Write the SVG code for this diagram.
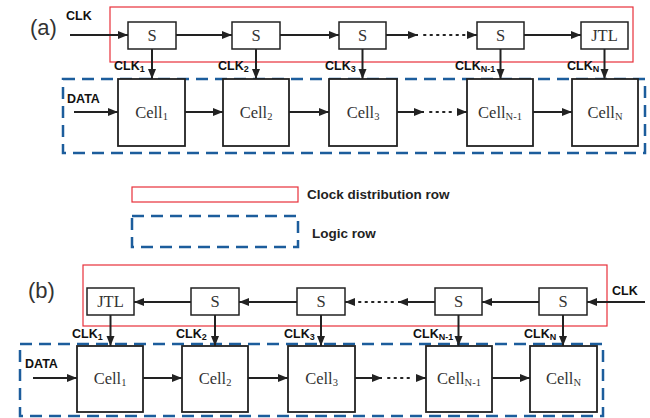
<svg xmlns="http://www.w3.org/2000/svg" width="650" height="418" viewBox="0 0 650 418">
<style>
.box{fill:#fff;stroke:#222;stroke-width:1.5}
.cell{fill:#fff;stroke:#222;stroke-width:1.8}
.red{fill:none;stroke:#e8303a;stroke-width:1.2}
.blue{fill:none;stroke:#1c5d9c;stroke-width:2.5;stroke-dasharray:12,7}
.w{fill:none;stroke:#222;stroke-width:2}
.dot{fill:none;stroke:#222;stroke-width:2;stroke-dasharray:1.5,5;stroke-linecap:round}
.serif{font-family:"Liberation Serif","Times New Roman",serif;font-size:16.5px;fill:#333;text-anchor:middle}
.sub{font-size:10.5px}
.lab{font-family:"Liberation Sans",Arial,sans-serif;font-weight:bold;font-size:12.5px;fill:#111}
.lsub{font-size:9px}
.big{font-family:"Liberation Sans",Arial,sans-serif;font-size:22px;fill:#333}
.leg{font-family:"Liberation Sans",Arial,sans-serif;font-weight:bold;font-size:13.5px;fill:#222}
</style>
<defs>
<marker id="ah" markerUnits="userSpaceOnUse" markerWidth="11" markerHeight="9" refX="10" refY="4" orient="auto">
<path d="M0,0 L10,4 L0,8 z" fill="#222"/>
</marker>
</defs>

<!-- (a) -->
<text class="big" x="30" y="35">(a)</text>
<rect id="a-clockrow" class="red" x="110" y="7" width="523" height="55"/>
<rect id="a-logicrow" class="blue" x="63" y="79" width="582" height="74"/>

<g id="a-s1"><rect class="box" x="128" y="22" width="48" height="27"/><text class="serif" x="152" y="41">S</text></g>
<g id="a-s2"><rect class="box" x="232" y="22" width="48" height="27"/><text class="serif" x="256" y="41">S</text></g>
<g id="a-s3"><rect class="box" x="339" y="22" width="47" height="27"/><text class="serif" x="362.5" y="41">S</text></g>
<g id="a-s4"><rect class="box" x="477" y="22" width="47" height="27"/><text class="serif" x="500.5" y="41">S</text></g>
<g id="a-jtl"><rect class="box" x="581" y="22" width="47" height="27"/><text class="serif" x="604.5" y="41">JTL</text></g>

<g id="a-cell1"><rect class="cell" x="118" y="79" width="67" height="67"/><text class="serif" x="151.5" y="118">Cell<tspan class="sub" dy="2">1</tspan></text></g>
<g id="a-cell2"><rect class="cell" x="223" y="79" width="66" height="67"/><text class="serif" x="256" y="118">Cell<tspan class="sub" dy="2">2</tspan></text></g>
<g id="a-cell3"><rect class="cell" x="329" y="79" width="68" height="67"/><text class="serif" x="363" y="118">Cell<tspan class="sub" dy="2">3</tspan></text></g>
<g id="a-celln1"><rect class="cell" x="467" y="79" width="66" height="67"/><text class="serif" x="500" y="118">Cell<tspan class="sub" dy="2">N-1</tspan></text></g>
<g id="a-celln"><rect class="cell" x="572" y="79" width="66" height="67"/><text class="serif" x="605" y="118">Cell<tspan class="sub" dy="2">N</tspan></text></g>

<g id="a-labels">
<text class="lab" x="66" y="20">CLK</text>
<text class="lab" x="67" y="103">DATA</text>
<text class="lab" x="114" y="70">CLK<tspan class="lsub" dy="2">1</tspan></text>
<text class="lab" x="218" y="70">CLK<tspan class="lsub" dy="2">2</tspan></text>
<text class="lab" x="325" y="70">CLK<tspan class="lsub" dy="2">3</tspan></text>
<text class="lab" x="455" y="70">CLK<tspan class="lsub" dy="2">N-1</tspan></text>
<text class="lab" x="567" y="70">CLK<tspan class="lsub" dy="2">N</tspan></text>
</g>

<g id="a-connectors">
<path class="w" d="M70,35 H128" marker-end="url(#ah)"/>
<path class="w" d="M176,35 H232" marker-end="url(#ah)"/>
<path class="w" d="M280,35 H339" marker-end="url(#ah)"/>
<path class="w" d="M386,35 H418" marker-end="url(#ah)"/>
<path class="dot" d="M424,35 H465"/>
<path class="w" d="M468,35 H477" marker-end="url(#ah)"/>
<path class="w" d="M524,35 H581" marker-end="url(#ah)"/>
<path class="w" d="M152,49 V79" marker-end="url(#ah)"/>
<path class="w" d="M256,49 V79" marker-end="url(#ah)"/>
<path class="w" d="M362.5,49 V79" marker-end="url(#ah)"/>
<path class="w" d="M500.5,49 V79" marker-end="url(#ah)"/>
<path class="w" d="M604.5,49 V79" marker-end="url(#ah)"/>
<path class="w" d="M74,112 H118" marker-end="url(#ah)"/>
<path class="w" d="M185,112 H223" marker-end="url(#ah)"/>
<path class="w" d="M289,112 H329" marker-end="url(#ah)"/>
<path class="w" d="M397,112 H424" marker-end="url(#ah)"/>
<path class="dot" d="M430,112 H456"/>
<path class="w" d="M458,112 H467" marker-end="url(#ah)"/>
<path class="w" d="M533,112 H572" marker-end="url(#ah)"/>
</g>

<!-- legend -->
<g id="legend">
<rect class="red" x="132" y="187" width="166" height="15"/>
<text class="leg" x="307" y="199">Clock distribution row</text>
<rect class="blue" x="132" y="216" width="166" height="31"/>
<text class="leg" x="312" y="238">Logic row</text>
</g>

<!-- (b) -->
<text class="big" x="28" y="298">(b)</text>
<rect id="b-clockrow" class="red" x="83" y="265" width="524" height="61"/>
<rect id="b-logicrow" class="blue" x="20" y="344" width="583" height="72"/>

<g id="b-jtl"><rect class="box" x="87" y="288" width="47" height="27"/><text class="serif" x="110.5" y="307">JTL</text></g>
<g id="b-s2"><rect class="box" x="191" y="288" width="48" height="27"/><text class="serif" x="215" y="307">S</text></g>
<g id="b-s3"><rect class="box" x="297" y="288" width="48" height="27"/><text class="serif" x="321" y="307">S</text></g>
<g id="b-sn1"><rect class="box" x="435" y="288" width="47" height="27"/><text class="serif" x="458.5" y="307">S</text></g>
<g id="b-sn"><rect class="box" x="539" y="288" width="48" height="27"/><text class="serif" x="563" y="307">S</text></g>

<g id="b-cell1"><rect class="cell" x="77" y="346" width="66" height="66"/><text class="serif" x="110" y="384">Cell<tspan class="sub" dy="2">1</tspan></text></g>
<g id="b-cell2"><rect class="cell" x="182" y="346" width="66" height="66"/><text class="serif" x="215" y="384">Cell<tspan class="sub" dy="2">2</tspan></text></g>
<g id="b-cell3"><rect class="cell" x="288" y="346" width="67" height="66"/><text class="serif" x="321.5" y="384">Cell<tspan class="sub" dy="2">3</tspan></text></g>
<g id="b-celln1"><rect class="cell" x="426" y="346" width="66" height="66"/><text class="serif" x="459" y="384">Cell<tspan class="sub" dy="2">N-1</tspan></text></g>
<g id="b-celln"><rect class="cell" x="530" y="346" width="67" height="66"/><text class="serif" x="563.5" y="384">Cell<tspan class="sub" dy="2">N</tspan></text></g>

<g id="b-labels">
<text class="lab" x="612" y="295">CLK</text>
<text class="lab" x="25" y="368">DATA</text>
<text class="lab" x="72" y="338">CLK<tspan class="lsub" dy="2">1</tspan></text>
<text class="lab" x="176" y="338">CLK<tspan class="lsub" dy="2">2</tspan></text>
<text class="lab" x="284" y="338">CLK<tspan class="lsub" dy="2">3</tspan></text>
<text class="lab" x="413" y="338">CLK<tspan class="lsub" dy="2">N-1</tspan></text>
<text class="lab" x="524" y="338">CLK<tspan class="lsub" dy="2">N</tspan></text>
</g>

<g id="b-connectors">
<path class="w" d="M645,302 H587" marker-end="url(#ah)"/>
<path class="w" d="M539,302 H482" marker-end="url(#ah)"/>
<path class="w" d="M435,302 H398" marker-end="url(#ah)"/>
<path class="dot" d="M393,302 H358"/>
<path class="w" d="M355,302 H345" marker-end="url(#ah)"/>
<path class="w" d="M297,302 H239" marker-end="url(#ah)"/>
<path class="w" d="M191,302 H134" marker-end="url(#ah)"/>
<path class="w" d="M110.5,315 V346" marker-end="url(#ah)"/>
<path class="w" d="M215,315 V346" marker-end="url(#ah)"/>
<path class="w" d="M321,315 V346" marker-end="url(#ah)"/>
<path class="w" d="M458.5,315 V346" marker-end="url(#ah)"/>
<path class="w" d="M563,315 V346" marker-end="url(#ah)"/>
<path class="w" d="M33,378 H77" marker-end="url(#ah)"/>
<path class="w" d="M143,378 H182" marker-end="url(#ah)"/>
<path class="w" d="M248,378 H288" marker-end="url(#ah)"/>
<path class="w" d="M355,378 H382" marker-end="url(#ah)"/>
<path class="dot" d="M388,378 H414"/>
<path class="w" d="M416,378 H426" marker-end="url(#ah)"/>
<path class="w" d="M492,378 H530" marker-end="url(#ah)"/>
</g>
</svg>
